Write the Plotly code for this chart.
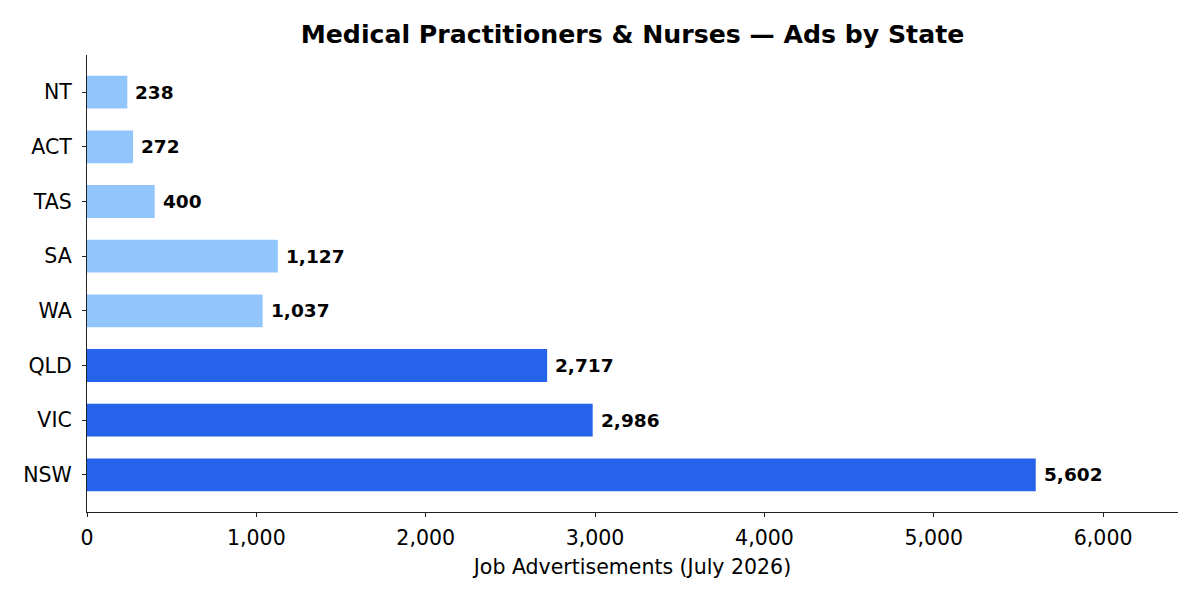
import plotly.graph_objects as go

states = ['NSW', 'VIC', 'QLD', 'WA', 'SA', 'TAS', 'ACT', 'NT']
ads = [5602, 2986, 2717, 1037, 1127, 400, 272, 238]
big_states = ['NSW', 'VIC', 'QLD']

DARK = '#2563EB'
LIGHT = '#93C5FD'
FONT = 'DejaVu Sans'

colors = [DARK if s in big_states else LIGHT for s in states]

fig = go.Figure()

fig.add_trace(go.Bar(
    x=ads,
    y=states,
    orientation='h',
    width=0.6,
    marker=dict(color=colors, line=dict(width=0)),
    showlegend=False,
    hoverinfo='skip',
))

# value labels just past the bar ends
for s, v in zip(states, ads):
    fig.add_annotation(
        x=v, y=s, xref='x', yref='y',
        text='<b>{:,}</b>'.format(v),
        showarrow=False,
        xanchor='left', yanchor='middle',
        xshift=6,
        font=dict(family=FONT, size=18.5, color='black'),
    )

fig.update_layout(
    width=1200,
    height=600,
    plot_bgcolor='white',
    paper_bgcolor='white',
    margin=dict(l=87, r=22, t=55, b=88),
    font=dict(family=FONT, color='black'),
    title=dict(
        text='<b>Medical Practitioners & Nurses — Ads by State</b>',
        x=0.5, xref='paper', xanchor='center',
        y=1 - 34 / 600, yref='container', yanchor='middle',
        font=dict(family=FONT, size=25.2, color='black'),
    ),
    xaxis=dict(
        range=[0, 6442],
        tickvals=[0, 1000, 2000, 3000, 4000, 5000, 6000],
        tickformat=',',
        ticks='outside', ticklen=4, tickwidth=1.2, tickcolor='#222',
        showline=True, linecolor='#222', linewidth=1.3,
        showgrid=False, zeroline=False,
        ticklabelstandoff=3,
        tickfont=dict(family=FONT, size=20.5, color='black'),
        title=dict(text='Job Advertisements (July 2026)',
                   font=dict(family=FONT, size=20.5, color='black'),
                   standoff=10),
    ),
    yaxis=dict(
        range=[-0.68, 7.68],
        ticks='outside', ticklen=4, tickwidth=1.2, tickcolor='#222',
        showline=True, linecolor='#222', linewidth=1.3,
        showgrid=False, zeroline=False,
        ticklabelstandoff=6,
        tickfont=dict(family=FONT, size=20.5, color='black'),
    ),
)

fig.write_html('out.html', config={'displayModeBar': False},
               post_script="document.body.style.margin='0';")
